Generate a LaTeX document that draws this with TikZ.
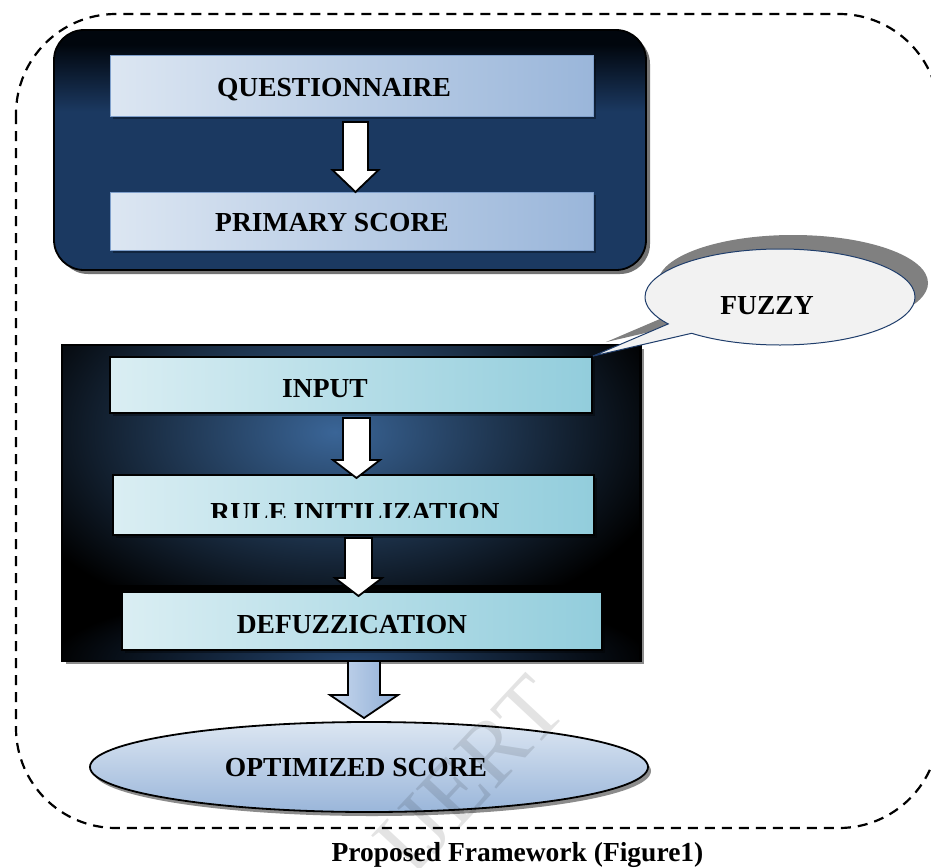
\documentclass[tikz,border=0pt]{standalone}
\usepackage{fontspec}
\setmainfont{Liberation Serif}
\usetikzlibrary{shapes.geometric,shapes.callouts,shadows,calc}

\definecolor{navy}{HTML}{1B3961}
\definecolor{navytop}{HTML}{01060D}
\definecolor{qleft}{HTML}{DCE6F2}
\definecolor{qright}{HTML}{9AB6DA}
\definecolor{qedge}{HTML}{7F9FCB}
\definecolor{aqleft}{HTML}{DAEEF3}
\definecolor{aqright}{HTML}{92CDDC}
\definecolor{midblue}{HTML}{3A6597}
\definecolor{lowblue}{HTML}{23446E}
\definecolor{fuzzfill}{HTML}{F2F2F2}
\definecolor{fuzzedge}{HTML}{1F3D6B}
\definecolor{shadowgray}{HTML}{808080}
\definecolor{arrleft}{HTML}{C9D9EE}
\definecolor{arrright}{HTML}{8FAED6}

% dark band at the top of the upper panel, navy below
\pgfdeclareverticalshading{navyband}{100bp}{color(0bp)=(navy); color(25bp)=(navy);
  color(58bp)=(navy); color(72bp)=(navytop); color(100bp)=(navytop)}

% block arrow pointing down: #1 start, #2 tip, #3 half shaft, #4 half head, #5 head length, #6 style
\newcommand\blkarrow[6]{%
  \path[#6] let \p1=(#1), \p2=(#2) in
    (\x1-#3,\y1) -- (\x1+#3,\y1) -- (\x1+#3,\y2+#5) -- (\x1+#4,\y2+#5) --
    (\x1,\y2) -- (\x1-#4,\y2+#5) -- (\x1-#3,\y2+#5) -- cycle;}

\tikzset{
  frame/.style={draw=black, line width=2.2pt, dash pattern=on 10pt off 7pt, rounded corners=100pt},
  topbox/.style={draw=black, line width=1.8pt, rounded corners=30pt, shade, shading=navyband,
    drop shadow={shadow xshift=4pt, shadow yshift=-4pt, opacity=0.55, fill=black}},
  qbox/.style={draw=qedge, line width=1pt, left color=qleft, right color=qright,
    drop shadow={shadow xshift=3pt, shadow yshift=-3pt, opacity=0.35, fill=black}},
  fbox/.style={draw=black, line width=1.8pt, left color=aqleft, right color=aqright,
    drop shadow={shadow xshift=3pt, shadow yshift=-3pt, opacity=0.35, fill=black}},
  label/.style={anchor=base, inner sep=0pt},
  whitearrow/.style={draw=black, line width=1.8pt, fill=white},
  bluearrow/.style={draw=black, line width=1.8pt, left color=arrleft, right color=arrright},
}

\begin{document}
\begin{tikzpicture}[x=1pt, y=-1pt, font=\bfseries\fontsize{27.5}{31}\selectfont]
\useasboundingbox (0,0) rectangle (931,867);
\fill[white] (0,0) rectangle (931,867);

% dashed outer frame (right edge runs past the page)
\draw[frame] (16,14) rectangle (939,828);

% upper panel
\node[topbox, minimum width=592pt, minimum height=240pt] (top) at (350,150) {};
\node[qbox, minimum width=483pt, minimum height=60pt] (q) at (351.5,86) {};
\node[qbox, minimum width=483pt, minimum height=58pt] (p) at (351.5,221) {};
\node[label] (qt) at (334,96) {QUESTIONNAIRE};
\node[label] (pt) at (332,231) {PRIMARY SCORE};
\coordinate (a1s) at (355.5,122);
\coordinate (a1t) at (355.5,192);
\blkarrow{a1s}{a1t}{12.5pt}{23pt}{22pt}{whitearrow}

% fuzzy panel
\node[draw=black, line width=1.5pt, fill=black, minimum width=578pt, minimum height=315pt,
  drop shadow={shadow xshift=4pt, shadow yshift=-4pt, opacity=0.45, fill=black}] (fz) at (351,502.5) {};
\begin{scope}
  \clip (63,346) rectangle (639,585);
  \shade[inner color=midblue, outer color=black] (335,432) ellipse [x radius=345, y radius=205];
\end{scope}
\begin{scope}
  \clip (63,587) rectangle (639,659);
  \shade[inner color=lowblue, outer color=black] (350,662) ellipse [x radius=300, y radius=75];
\end{scope}
\draw[line width=1.5pt] (fz.north west) rectangle (fz.south east);
\draw[line width=2pt] (fz.west |- 0,586) -- (fz.east |- 0,586);

\node[fbox, minimum width=482pt, minimum height=56pt] (in) at (351,385) {};
\node[fbox, minimum width=481pt, minimum height=60pt] (ru) at (353.5,505) {};
\node[fbox, minimum width=480pt, minimum height=58pt] (de) at (362,621) {};
\node[label] (int) at (325,397) {INPUT};
\begin{scope}
  \clip (100,470) rectangle (620,517);
  \node[label] (rut) at (355,521) {RULE INITILIZATION};
\end{scope}
\node[label] (det) at (352,633) {DEFUZZICATION};

\coordinate (a2s) at (356.5,418);
\coordinate (a2t) at (356.5,478);
\blkarrow{a2s}{a2t}{13.5pt}{23.5pt}{18pt}{whitearrow}
\coordinate (a3s) at (358.5,538);
\coordinate (a3t) at (358.5,596);
\blkarrow{a3s}{a3t}{13.5pt}{23.5pt}{18pt}{whitearrow}

% callout
\node[ellipse callout, draw=fuzzedge, line width=1pt, fill=fuzzfill,
  minimum width=270pt, minimum height=96pt, callout absolute pointer={(in.north east)},
  drop shadow={shadow xshift=13pt, shadow yshift=14pt, opacity=1, fill=shadowgray}] (fuzzy) at (780,297) {};
\node[label] (fuzzyt) at (767,314) {FUZZY};

% result
\coordinate (a4s) at (364,661);
\coordinate (a4t) at (364,718);
\blkarrow{a4s}{a4t}{16pt}{34pt}{23pt}{bluearrow}
\node[ellipse, draw=black, line width=1.8pt, top color=qleft, bottom color=qright,
  minimum width=558pt, minimum height=90pt,
  drop shadow={shadow xshift=3pt, shadow yshift=-4pt, opacity=0.45, fill=black}] (opt) at (369,767) {};
\node[label] (optt) at (356,776) {OPTIMIZED SCORE};

% caption
\node[label] (cap) at (517.5,861) {Proposed Framework (Figure1)};

% watermark
\node[rotate=47, opacity=0.11, font=\fontsize{90}{90}\selectfont] (wm) at (470,775) {IJERT};
\end{tikzpicture}
\end{document}
